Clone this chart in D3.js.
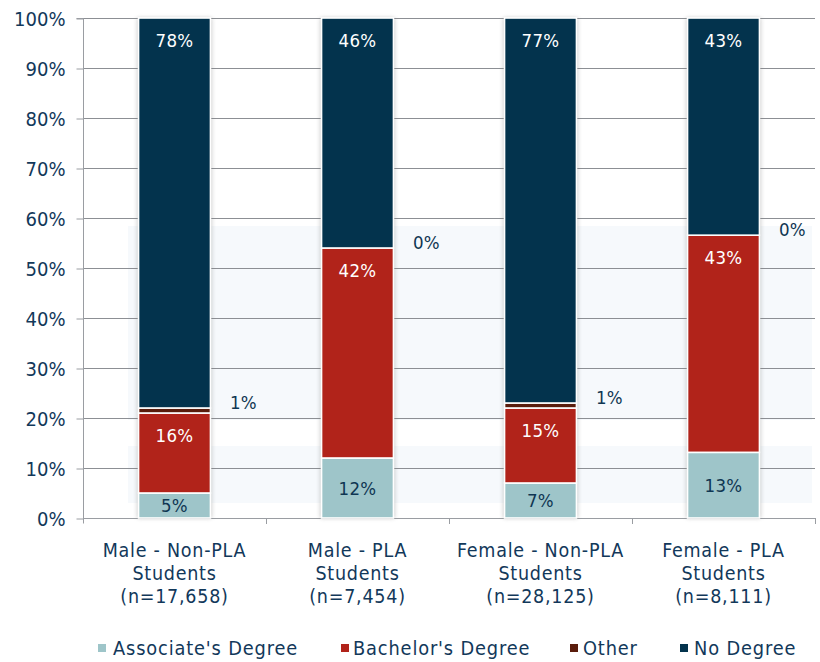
<!DOCTYPE html>
<html>
<head>
<meta charset="utf-8">
<script src="https://cdn.jsdelivr.net/npm/d3@7/dist/d3.min.js"></script>
<style>
  html, body { margin: 0; padding: 0; background: #fff; }
  svg { display: block; }
  text { font-family: "DejaVu Sans Condensed", "DejaVu Sans", sans-serif; font-stretch: condensed; }
</style>
</head>
<body>
<svg id="chart" width="820" height="662"></svg>
<script>
// Degree outcomes by gender and PLA participation (percent of each group)
const categories = [
  ["Male - Non-PLA", "Students", "(n=17,658)"],
  ["Male - PLA", "Students", "(n=7,454)"],
  ["Female - Non-PLA", "Students", "(n=28,125)"],
  ["Female - PLA", "Students", "(n=8,111)"]
];
const seriesNames = ["Associate's Degree", "Bachelor's Degree", "Other", "No Degree"];
const associate = [5, 12, 7, 13];
const bachelor  = [16, 42, 15, 43];
const other     = [1, 0, 1, 0];
const noDegree  = [78, 46, 77, 43];
const yTicks = [0, 0.1, 0.2, 0.3, 0.4, 0.5, 0.6, 0.7, 0.8, 0.9, 1.0];

const colors = ["#9ec5c9", "#b1231a", "#5a1c0c", "#03334d"];
const labelColors = ["#0f3652", "#ffffff", "#0f3652", "#ffffff"];
const textColor = "#12385a";

const rows = categories.map((c, i) => ({
  key: i,
  [seriesNames[0]]: associate[i],
  [seriesNames[1]]: bachelor[i],
  [seriesNames[2]]: other[i],
  [seriesNames[3]]: noDegree[i]
}));

// 100% stacked layout
const stack = d3.stack().keys(seriesNames).offset(d3.stackOffsetExpand);
const layers = stack(rows);

const svg = d3.select("#chart");
const plotLeft = 83, plotRight = 815, plotTop = 18, plotBottom = 518;

const x = d3.scaleBand()
  .domain(d3.range(categories.length))
  .range([plotLeft, plotRight])
  .paddingInner(0.607)
  .paddingOuter(0.3035);
const y = d3.scaleLinear().domain([0, 1]).range([plotBottom, plotTop]);

// soft background panels
const panelG = svg.append("g");
[[0.584, 0.196], [0.144, 0.03]].forEach(([a, b]) => {
  panelG.append("rect")
    .attr("x", 128).attr("width", plotRight - 3 - 128)
    .attr("y", y(a)).attr("height", y(b) - y(a))
    .attr("fill", "#f6f9fc");
});

// gridlines
svg.append("g")
  .selectAll("line")
  .data(yTicks.slice(1))
  .join("line")
  .attr("x1", plotLeft).attr("x2", plotRight)
  .attr("y1", d => y(d) + 0.5).attr("y2", d => y(d) + 0.5)
  .attr("stroke", "#8c8f94").attr("stroke-width", 1);

// y axis
const yAxis = d3.axisLeft(y)
  .tickValues(yTicks)
  .tickFormat(d3.format(".0%"))
  .tickSize(7)
  .tickPadding(11);
const yg = svg.append("g").attr("transform", `translate(${plotLeft + 0.5},0.5)`).call(yAxis);
yg.select(".domain").attr("stroke", "#9a9da2").attr("d", `M-7,${plotTop}H0V${plotBottom + 5}`);
yg.selectAll(".tick line").attr("stroke", "#9a9da2");
yg.selectAll(".tick text")
  .attr("fill", textColor)
  .style("font-size", "20px")
  .style("font-family", null)
  .attr("dy", "0.36em");

// x axis baseline and boundary ticks
svg.append("line")
  .attr("x1", plotLeft).attr("x2", plotRight)
  .attr("y1", plotBottom + 0.5).attr("y2", plotBottom + 0.5)
  .attr("stroke", "#9a9da2");
svg.append("g")
  .selectAll("line")
  .data(d3.range(1, categories.length + 1))
  .join("line")
  .attr("x1", i => plotLeft + x.step() * i + 0.5)
  .attr("x2", i => plotLeft + x.step() * i + 0.5)
  .attr("y1", plotBottom).attr("y2", plotBottom + 6)
  .attr("stroke", "#9a9da2");

// bar shadow
const defs = svg.append("defs");
const f = defs.append("filter").attr("id", "barShadow")
  .attr("x", "-30%").attr("y", "-5%").attr("width", "160%").attr("height", "110%");
f.append("feGaussianBlur").attr("stdDeviation", 2.2);

svg.append("g")
  .selectAll("rect")
  .data(rows)
  .join("rect")
  .attr("x", d => x(d.key) - 1)
  .attr("width", x.bandwidth() + 2)
  .attr("y", y(1))
  .attr("height", y(0) - y(1))
  .attr("fill", "#7c7c7c")
  .attr("opacity", 0.45)
  .attr("filter", "url(#barShadow)");

// bar segments
const barG = svg.append("g");
layers.forEach((layer, si) => {
  barG.append("g")
    .selectAll("rect")
    .data(layer)
    .join("rect")
    .attr("x", d => x(d.data.key))
    .attr("width", x.bandwidth())
    .attr("y", d => y(d[1]))
    .attr("height", d => Math.max(0, y(d[0]) - y(d[1])))
    .attr("fill", colors[si])
    .attr("stroke", "#ffffff")
    .attr("stroke-width", 1.6);
});

// value labels
const raw = [associate, bachelor, other, noDegree];
layers.forEach((layer, si) => {
  svg.append("g")
    .selectAll("text")
    .data(layer)
    .join("text")
    .attr("x", d => si === 2 ? x(d.data.key) + x.bandwidth() + 33 : x(d.data.key) + x.bandwidth() / 2)
    .attr("y", d => {
      if (si === 0) return (y(d[0]) + y(d[1])) / 2;      // centred
      if (si === 2) return y(d[1]) - 6;                   // beside the bar
      return y(d[1]) + 22;                                // inside end
    })
    .attr("dy", "0.36em")
    .attr("text-anchor", "middle")
    .attr("fill", labelColors[si])
    .style("font-size", "18.5px")
    .style("letter-spacing", "0.3px")
    .text((d, i) => raw[si][i] + "%");
});

// category labels
const catG = svg.append("g");
categories.forEach((lines, i) => {
  const t = catG.append("text")
    .attr("text-anchor", "middle")
    .attr("fill", textColor)
    .style("font-size", "19.5px")
    .style("letter-spacing", "0.75px");
  lines.forEach((ln, j) => {
    t.append("tspan")
      .attr("x", x(i) + x.bandwidth() / 2)
      .attr("y", 557 + j * 23)
      .text(ln);
  });
});

// legend
const legendSwatchX = [98, 341, 570, 680];
const legendTextX = [113, 353, 583, 694];
const lg = svg.append("g");
seriesNames.forEach((name, i) => {
  lg.append("rect")
    .attr("x", legendSwatchX[i]).attr("y", 644)
    .attr("width", 8).attr("height", 8)
    .attr("fill", colors[i]);
  lg.append("text")
    .attr("x", legendTextX[i]).attr("y", 655)
    .attr("fill", textColor)
    .style("font-size", "19.8px")
    .style("letter-spacing", "0.85px")
    .text(name);
});
</script>
</body>
</html>
